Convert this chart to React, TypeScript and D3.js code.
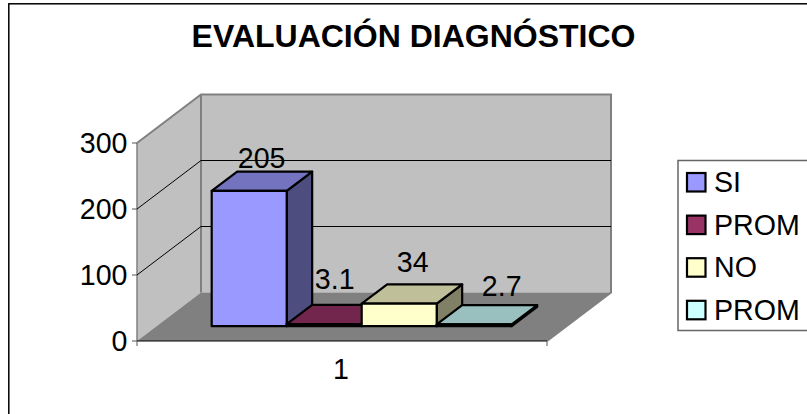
import React from "react";
import * as d3 from "d3";

const title = "EVALUACIÓN DIAGNÓSTICO";
const categories = ["SI", "PROM", "NO", "PROM"];
const values = [205, 3.1, 34, 2.7];
const valueLabels = ["205", "3.1", "34", "2.7"];
const ticks = [0, 100, 200, 300];
const frontColors = ["#9999FF", "#993366", "#FFFFCC", "#CCFFFF"];
const topColors = ["#7373BF", "#73264D", "#BFBF99", "#99BFBF"];
const sideColors = ["#4D4D80", "#4D1A33", "#808066", "#668080"];
const xLabel = "1";

const font = "'Liberation Sans', Arial, sans-serif";
const depthX = 64;
const depthY = 48.5;
const D0 = 0.306;
const D1 = 0.704;
const yS = d3.scaleLinear().domain([0, 300]).range([0, 198]);
const xS = d3.scaleBand<number>().domain(d3.range(4)).range([211.7 - D0 * depthX, 511.7 - D0 * depthX]);
const floorX0 = 137;
const floorX1 = 547;
const floorY = 341;
const labelSize = 28.6;
// the value labels are nudged away from the bar top, as the original renderer placed them
const labelDx = [-13, -15, -12, 2];
const labelDy = [-4, -16, -12, -9];

// depth: 0 = front plane, 1 = back wall
const P = (x: number, v: number, depth: number): [number, number] => [
  x + depth * depthX,
  floorY - depth * depthY - yS(v),
];
const poly = (pts: [number, number][]) => d3.line()(pts)! + "Z";

export default function App() {
  const wallTop = 300;
  return (
    <svg
      width={807}
      height={414}
      style={{ position: "absolute", left: 0, top: 0, background: "#fff" }}
      fontFamily={font}
    >
      <rect x={8.8} y={3.8} width={810} height={430} fill="#fff" stroke="#000" strokeWidth={1.5} />
      <text x={413.5} y={47} textAnchor="middle" fontSize={32} fontWeight="bold" fill="#000">
        {title}
      </text>

      {/* walls */}
      <path
        d={poly([P(floorX0, 0, 0), P(floorX0, wallTop, 0), P(floorX0, wallTop, 1), P(floorX0, 0, 1)])}
        fill="#C0C0C0"
        stroke="none"
      />
      <path
        d={poly([P(floorX0, 0, 1), P(floorX0, wallTop, 1), P(floorX1, wallTop, 1), P(floorX1, 0, 1)])}
        fill="#C0C0C0"
        stroke="none"
      />
      <path
        d={poly([P(floorX0, 0, 0), P(floorX0, 0, 1), P(floorX1, 0, 1), P(floorX1, 0, 0)])}
        fill="#808080"
        stroke="none"
      />
      {/* wall edges */}
      <path
        d={d3.line()([P(floorX0, wallTop, 0), P(floorX0, wallTop, 1), P(floorX1, wallTop, 1), P(floorX1, 0, 1), P(floorX1, 0, 0)])!}
        fill="none"
        stroke="#808080"
        strokeWidth={2}
      />
      <path d={d3.line()([P(floorX0, 0, 1), P(floorX0, wallTop, 1)])!} stroke="#808080" strokeWidth={2} fill="none" />
      <path d={d3.line()([P(floorX0, 0, 0), P(floorX0, wallTop, 0)])!} stroke="#808080" strokeWidth={1.5} fill="none" />

      {/* gridlines */}
      {ticks.slice(1, 3).map((t) => (
        <path
          key={t}
          d={d3.line()([P(floorX0, t, 0), P(floorX0, t, 1), P(floorX1, t, 1)])!}
          fill="none"
          stroke="#000"
          strokeWidth={1}
        />
      ))}

      {/* axes */}
      <path d={d3.line()([P(floorX0, 0, 0), P(floorX1, 0, 0)])!} stroke="#000" strokeWidth={1} fill="none" />
      {ticks.map((t) => {
        const [x, y] = P(floorX0, t, 0);
        return (
          <g key={t}>
            <line x1={x - 5} x2={x} y1={y} y2={y} stroke="#555" strokeWidth={1} />
            <text x={x - 9.5} y={y + 10.4} textAnchor="end" fontSize={labelSize} fill="#000">
              {t}
            </text>
          </g>
        );
      })}
      <line x1={137} x2={137} y1={341} y2={346} stroke="#555" />
      <line x1={547} x2={547} y1={341} y2={346} stroke="#555" />
      <text x={341} y={379} textAnchor="middle" fontSize={labelSize} fill="#000">
        {xLabel}
      </text>

      {/* bars, drawn left to right */}
      {values.map((v, i) => {
        const x0 = xS(i)!;
        const x1 = x0 + xS.bandwidth();
        const s = { stroke: "#000", strokeWidth: 2.2, strokeLinejoin: "round" as const };
        return (
          <g key={i}>
            <path d={poly([P(x1, 0, D0), P(x1, v, D0), P(x1, v, D1), P(x1, 0, D1)])} fill={sideColors[i]} {...s} />
            <path d={poly([P(x0, v, D0), P(x0, v, D1), P(x1, v, D1), P(x1, v, D0)])} fill={topColors[i]} {...s} />
            <path d={poly([P(x0, 0, D0), P(x0, v, D0), P(x1, v, D0), P(x1, 0, D0)])} fill={frontColors[i]} {...s} />
          </g>
        );
      })}
      {values.map((v, i) => {
        const [x, y] = P(xS(i)! + xS.bandwidth() / 2, v, D1);
        return (
          <text key={i} x={x + labelDx[i]} y={y + labelDy[i]} textAnchor="middle" fontSize={labelSize} fill="#000">
            {valueLabels[i]}
          </text>
        );
      })}

      {/* legend */}
      <rect x={678} y={160.5} width={140} height={170} fill="#fff" stroke="#666" strokeWidth={1.5} />
      {categories.map((c, i) => {
        const y = 173 + i * 42.6;
        return (
          <g key={i}>
            <rect x={687} y={y} width={18.5} height={18.5} fill={frontColors[i]} stroke="#000" strokeWidth={2.2} />
            <text x={714} y={y + 19} fontSize={labelSize} fill="#000">
              {c}
            </text>
          </g>
        );
      })}
    </svg>
  );
}
